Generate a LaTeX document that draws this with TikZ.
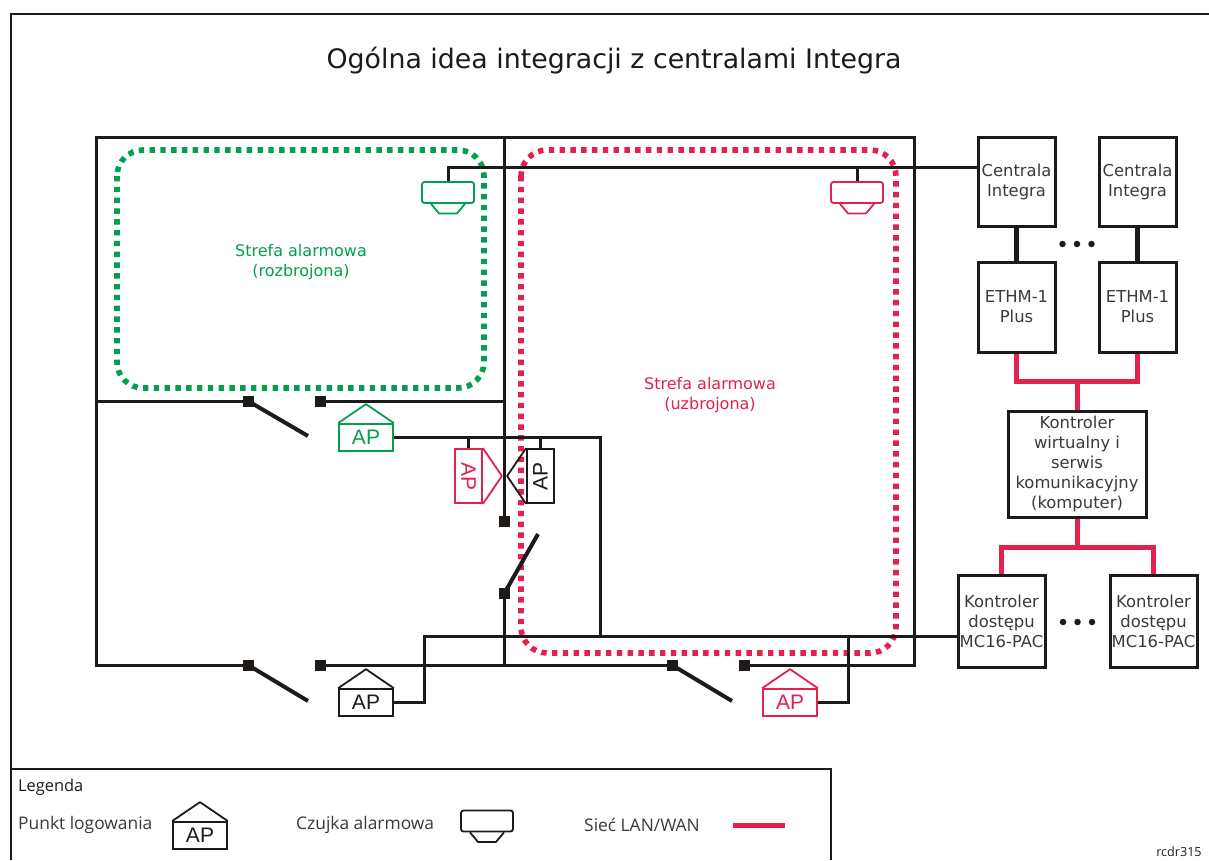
\documentclass[tikz,border=0pt]{standalone}
\usepackage{fontspec}
\setmainfont{DejaVu Sans}
\newfontfamily\apfont{Liberation Sans}
\newfontfamily\legfont{Open Sans}
\definecolor{kblk}{HTML}{1E1A17}
\definecolor{kgrn}{HTML}{00A04F}
\definecolor{kred}{HTML}{E2214F}
\definecolor{ktxt}{HTML}{3A3A3A}
\newcommand{\apsym}[6]{% name, x, y, colour, rotation, text
  \node[apbody,draw=#4,text=#4,rotate=#5] (#1) at (#2,#3) {#6};
  \path (#1.north) ++(#5+90:19pt) coordinate (#1-apex);
  \draw[#4,line width=1.8pt,line join=round] (#1.north west) -- (#1-apex) -- (#1.north east);
}
\newcommand{\sensorsym}[4]{% name,x,y,colour
  \node[sensorbody,draw=#4] (#1) at (#2,#3) {};
  \draw[#4,line width=1.8pt,line join=round] ($(#1.south)+(-17,0)$) -- ++(8,9.5) -- ++(18,0) -- ++(8,-9.5);
}
\usetikzlibrary{calc}
\tikzset{
  x=1pt,y=-1pt,
  apbody/.style={rectangle,line width=1.8pt,minimum width=54pt,minimum height=27pt,inner sep=0pt,font=\apfont\fontsize{21}{21}\selectfont,fill=white},
  sensorbody/.style={rectangle,rounded corners=2.5pt,line width=1.8pt,minimum width=52pt,minimum height=21pt,inner sep=0pt,fill=white},
  wall/.style={kblk,line width=3pt},
  bus/.style={kblk,line width=3pt},
  leaf/.style={kblk,line width=4pt},
  hinge/.style={rectangle,fill=kblk,minimum size=11pt,inner sep=0pt},
  lan/.style={kred,line width=5pt},
  devbox/.style={rectangle,draw=kblk,line width=3pt,inner sep=0pt,align=center,text=ktxt,font=\fontsize{16.4}{20}\selectfont,fill=none},
  zone/.style={line width=5.6pt,rounded corners=26pt,dash pattern=on 5.4pt off 5.4pt},
  lab/.style={inner sep=0pt,align=center,font=\fontsize{16}{20}\selectfont},
  leg/.style={inner sep=0pt,anchor=west,text=ktxt,font=\legfont\fontsize{17.4}{18}\selectfont},
  edot/.style={circle,fill=kblk,minimum size=6.5pt,inner sep=0pt},
}
\begin{document}
\begin{tikzpicture}
\useasboundingbox (0,0) rectangle (1209,860);
% frame
\draw[kblk,line width=1.8pt] (11,860) -- (11,14) -- (1209,14);
\node[inner sep=0pt,text=kblk,font=\fontsize{26.8}{30}\selectfont] (title) at (614,61) {Ogólna idea integracji z centralami Integra};

% zones
\draw[kgrn,zone] (117,150) rectangle (484,388);
\draw[kred,zone] (521,150) rectangle (896,653);

% hinges
\node[hinge] (h1) at (248,401) {};
\node[hinge] (h2) at (320,401) {};
\node[hinge] (h3) at (248,665) {};
\node[hinge] (h4) at (320,665) {};
\node[hinge] (h5) at (672,665) {};
\node[hinge] (h6) at (744,665) {};
\node[hinge] (h7) at (504.5,521) {};
\node[hinge] (h8) at (504.5,593) {};

% walls
\coordinate (tl) at (96,137);
\coordinate (tr) at (914,137);
\coordinate (tm) at (504.5,137);
\coordinate (bm) at (504.5,665);
\coordinate (ml) at (96,401);
\coordinate (mm) at (504.5,401);
\coordinate (bl) at (96,665);
\coordinate (br) at (914,665);
\draw[wall] (h3.center) -- (bl) -- (tl) -- (tr) -- (br) -- (h6.center);
\draw[wall] (tm) -- (h7.center);
\draw[wall] (h8.center) -- (bm);
\draw[wall] (ml) -- (h1.center);
\draw[wall] (h2.center) -- (mm);
\draw[wall] (h4.center) -- (h5.center);

% door leaves
\coordinate (l1) at (308,436);
\coordinate (l2) at (308,701);
\coordinate (l3) at (732,701);
\coordinate (l4) at (538,534);
\draw[leaf] (h1.center) -- (l1);
\draw[leaf] (h3.center) -- (l2);
\draw[leaf] (h5.center) -- (l3);
\draw[leaf] (h8.center) -- (l4);

% device boxes
\node[devbox,minimum width=77pt,minimum height=89pt] (c1) at (1016.5,181.5) {Centrala\\Integra};
\node[devbox,minimum width=77pt,minimum height=89pt] (c2) at (1137.5,181.5) {Centrala\\Integra};
\node[devbox,minimum width=77pt,minimum height=90pt] (e1) at (1016.5,307) {ETHM-1\\Plus};
\node[devbox,minimum width=77pt,minimum height=90pt] (e2) at (1137.5,307) {ETHM-1\\Plus};
\node[devbox,minimum width=138pt,minimum height=106pt] (v) at (1077,464) {Kontroler\\wirtualny i\\serwis\\komunikacyjny\\(komputer)};
\node[devbox,minimum width=87pt,minimum height=92pt] (k1) at (1001.5,621) {Kontroler\\dostępu\\MC16-PAC};
\node[devbox,minimum width=87pt,minimum height=92pt] (k2) at (1153.5,621) {Kontroler\\dostępu\\MC16-PAC};

\draw[kblk,line width=4.4pt] (c1.south) -- (e1.north);
\draw[kblk,line width=4.4pt] (c2.south) -- (e2.north);

% LAN
\coordinate (lt) at (1077,381);
\coordinate (lb) at (1077,547);
\draw[lan] (e1.south) |- (lt) -| (e2.south);
\draw[lan] (lt) -- (v.north);
\draw[lan] (v.south) -- (lb);
\draw[lan] (k1.north) |- (lb) -| (k2.north);

% ellipsis dots
\node[edot] (d1) at (1062.5,244) {};
\node[edot] (d2) at (1077,244) {};
\node[edot] (d3) at (1091.5,244) {};
\node[edot] (d4) at (1063,622) {};
\node[edot] (d5) at (1077.5,622) {};
\node[edot] (d6) at (1092,622) {};

% sensors
\coordinate (sb) at (448,167);
\sensorsym{s1}{448}{192.5}{kgrn}
\sensorsym{s2}{857}{192.5}{kred}
\draw[bus] (s1.north) |- (c1.west |- sb);
\draw[bus] (s2.north) -- (s2.north |- sb);

% AP symbols
\apsym{apg}{366}{437.5}{kgrn}{0}{AP}
\apsym{apk}{366}{702.6}{kblk}{0}{AP}
\apsym{apr}{790}{702.6}{kred}{0}{AP}
\apsym{apv}{468.5}{476}{kred}{-90}{AP}
\apsym{apw}{540.5}{476}{kblk}{90}{AP}

% buses
\coordinate (j1) at (600,437.5);
\coordinate (j2) at (600,636);
\coordinate (j3) at (424,636);
\coordinate (j4) at (848,636);
\draw[bus] (apg.east) -- (j1) -- (j2);
\draw[bus] (apv.west) -- (apv.west |- j1);
\draw[bus] (apw.east) -- (apw.east |- j1);
\draw[bus] (apk.east) -| (j3) -- (k1.west |- j3);
\draw[bus] (apr.east) -| (j4);

% zone labels
\node[lab,text=kgrn] (zg) at (301,262) {Strefa alarmowa\\(rozbrojona)};
\node[lab,text=kred] (zr) at (710,395) {Strefa alarmowa\\(uzbrojona)};

% legend
\coordinate (lg1) at (831,860);
\coordinate (lg2) at (831,769);
\coordinate (lg3) at (11,769);
\draw[kblk,line width=1.8pt] (lg1) -- (lg2) -- (lg3);
\node[leg,text=kblk,font=\legfont\fontsize{16.4}{18}\selectfont] (lg) at (18,787) {Legenda};
\node[leg] (lp) at (18,825) {Punkt logowania};
\apsym{aplg}{200}{835.5}{kblk}{0}{AP}
\node[leg] (lc) at (296,825) {Czujka alarmowa};
\sensorsym{slg}{487}{821}{kblk}
\node[leg] (ls) at (584,825) {Sieć LAN/WAN};
\coordinate (ll1) at (733,825);
\coordinate (ll2) at (785,825);
\draw[lan] (ll1) -- (ll2);
\node[inner sep=0pt,text=kblk,font=\legfont\fontsize{12.6}{14}\selectfont] (rc) at (1179,852) {rcdr315};
\end{tikzpicture}
\end{document}
